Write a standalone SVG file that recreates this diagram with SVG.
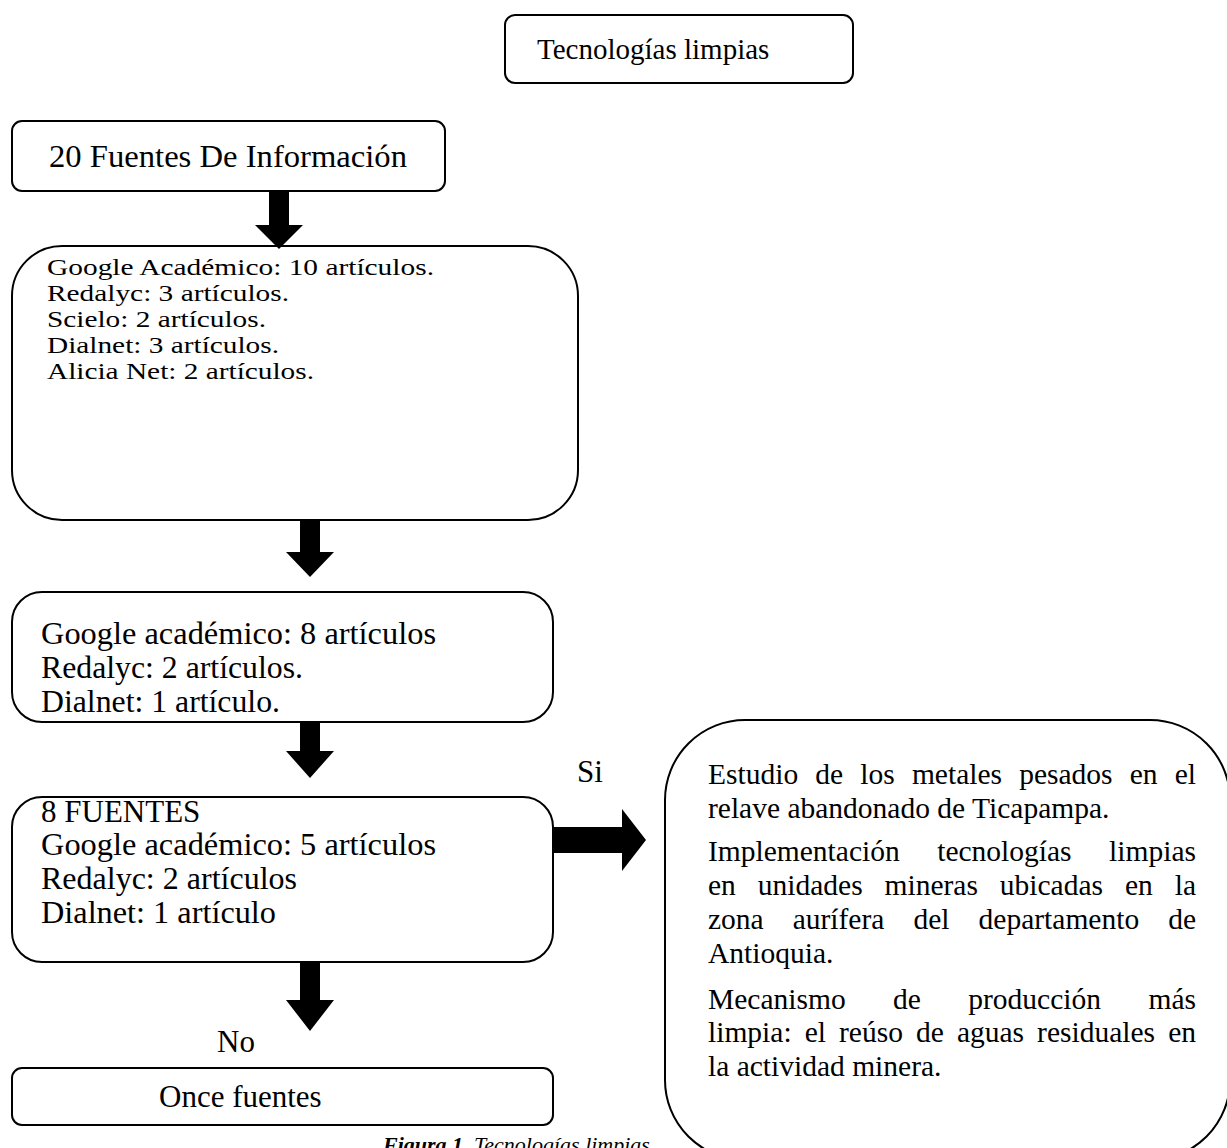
<svg xmlns="http://www.w3.org/2000/svg" width="1227" height="1148" viewBox="0 0 1227 1148">
<style>
.box{fill:#fff;stroke:#000;stroke-width:2}
.t{font-family:"Liberation Serif","Times New Roman",serif;font-size:29.5px;fill:#000}
.m{font-size:31px}
.s{font-size:23.4px}
.arr{fill:#000;stroke:none}
</style>
<rect width="1227" height="1148" fill="#fff"/>
<g id="caption">
<text class="t" style="font-size:22px" x="383" y="1152"><tspan font-weight="bold" font-style="italic">Figura 1.</tspan><tspan font-style="italic"> Tecnologías limpias</tspan></text>
</g>
<g id="n-titulo">
<rect class="box" x="505" y="15" width="348" height="68" rx="10"/>
<text class="t" style="font-size:29px" x="537" y="59">Tecnologías limpias</text>
</g>
<g id="n-fuentes">
<rect class="box" x="12" y="121" width="433" height="70" rx="10"/>
<text class="t" style="font-size:32px" x="49" y="167" textLength="358" lengthAdjust="spacingAndGlyphs">20 Fuentes De Información</text>
</g>
<g id="n-bases">
<rect class="box" x="12" y="246" width="566" height="274" rx="50"/>
<g class="t s">
<text x="47" y="275" textLength="387" lengthAdjust="spacingAndGlyphs">Google Académico: 10 artículos.</text>
<text x="47" y="301" textLength="242" lengthAdjust="spacingAndGlyphs">Redalyc: 3 artículos.</text>
<text x="47" y="327" textLength="219" lengthAdjust="spacingAndGlyphs">Scielo: 2 artículos.</text>
<text x="47" y="353" textLength="232" lengthAdjust="spacingAndGlyphs">Dialnet: 3 artículos.</text>
<text x="47" y="379" textLength="267" lengthAdjust="spacingAndGlyphs">Alicia Net: 2 artículos.</text>
</g>
</g>
<g id="n-filtro">
<rect class="box" x="12" y="592" width="541" height="130" rx="30"/>
<g class="t m">
<text x="41" y="644" textLength="395" lengthAdjust="spacingAndGlyphs">Google académico: 8 artículos</text>
<text x="41" y="678" textLength="262" lengthAdjust="spacingAndGlyphs">Redalyc: 2 artículos.</text>
<text x="41" y="712" textLength="239" lengthAdjust="spacingAndGlyphs">Dialnet: 1 artículo.</text>
</g>
</g>
<g id="n-ocho">
<rect class="box" x="12" y="797" width="541" height="165" rx="30"/>
<g class="t m">
<text x="41" y="822">8 FUENTES</text>
<text x="41" y="855" textLength="395" lengthAdjust="spacingAndGlyphs">Google académico: 5 artículos</text>
<text x="41" y="889" textLength="256" lengthAdjust="spacingAndGlyphs">Redalyc: 2 artículos</text>
<text x="41" y="923" textLength="235" lengthAdjust="spacingAndGlyphs">Dialnet: 1 artículo</text>
</g>
</g>
<g id="n-once">
<rect class="box" x="12" y="1068" width="541" height="57" rx="10"/>
<text class="t m" x="159" y="1107">Once fuentes</text>
</g>
<g id="n-resultados">
<rect class="box" x="665" y="720" width="565" height="440" rx="80"/>
<text class="t"><tspan x="708" y="784">Estudio</tspan><tspan x="815.3" y="784">de</tspan><tspan x="860.3" y="784">los</tspan><tspan x="911.9" y="784">metales</tspan><tspan x="1019.2" y="784">pesados</tspan><tspan x="1129.7" y="784">en</tspan><tspan x="1174.7" y="784">el</tspan></text>
<text class="t" x="708" y="818">relave abandonado de Ticapampa.</text>
<text class="t"><tspan x="708" y="861">Implementación</tspan><tspan x="937.2" y="861">tecnologías</tspan><tspan x="1109.1" y="861">limpias</tspan></text>
<text class="t"><tspan x="708" y="895">en</tspan><tspan x="757.8" y="895">unidades</tspan><tspan x="884.5" y="895">mineras</tspan><tspan x="999.8" y="895">ubicadas</tspan><tspan x="1124.9" y="895">en</tspan><tspan x="1174.7" y="895">la</tspan></text>
<text class="t"><tspan x="708" y="929">zona</tspan><tspan x="792.7" y="929">aurífera</tspan><tspan x="913.5" y="929">del</tspan><tspan x="978.6" y="929">departamento</tspan><tspan x="1168.2" y="929">de</tspan></text>
<text class="t" x="708" y="963">Antioquia.</text>
<text class="t"><tspan x="708" y="1009">Mecanismo</tspan><tspan x="893.1" y="1009">de</tspan><tspan x="968.3" y="1009">producción</tspan><tspan x="1148.5" y="1009">más</tspan></text>
<text class="t"><tspan x="708" y="1042">limpia:</tspan><tspan x="804.7" y="1042">el</tspan><tspan x="839" y="1042">reúso</tspan><tspan x="916" y="1042">de</tspan><tspan x="956.9" y="1042">aguas</tspan><tspan x="1037.1" y="1042">residuales</tspan><tspan x="1168.2" y="1042">en</tspan></text>
<text class="t" x="708" y="1076">la actividad minera.</text>
</g>
<g id="connectors">
<polygon class="arr" points="269,192 289,192 289,225 303,225 279,249 255,225 269,225"/>
<polygon class="arr" points="300,521 320,521 320,552 334,552 310,577 286,552 300,552"/>
<polygon class="arr" points="300,723 320,723 320,751 334,751 310,778 286,751 300,751"/>
<polygon class="arr" points="553,827 622,827 622,809 646,840 622,871 622,853 553,853"/>
<polygon class="arr" points="300,963 320,963 320,1000 334,1000 310,1031 286,1000 300,1000"/>
<text class="t m" x="577" y="782">Si</text>
<text class="t m" x="217" y="1052">No</text>
</g>
</svg>
